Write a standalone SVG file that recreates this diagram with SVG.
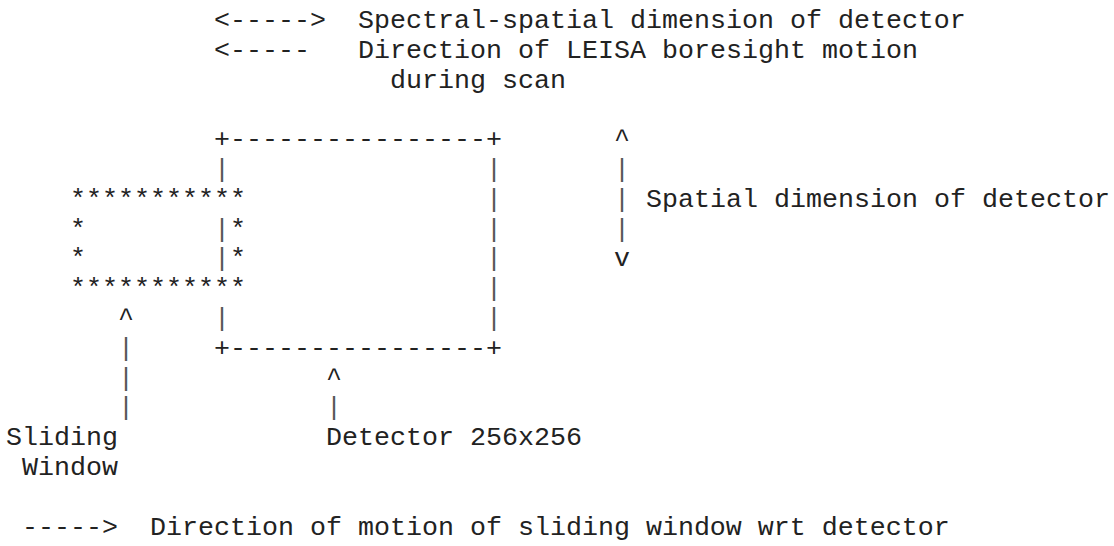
<svg xmlns="http://www.w3.org/2000/svg" width="1114" height="546" viewBox="0 0 1114 546">
  <style>
    text { font-family: "Liberation Mono", "Courier New", monospace; font-size: 26.667px; fill: #222; white-space: pre; }
    .bar { fill: #555; }
  </style>
  <rect width="1114" height="546" fill="#fff"/>

  <!-- legend: the two direction keys at the top and the motion key at the bottom -->
  <g id="legend" xml:space="preserve">
    <text x="214" y="28">&lt;-----&gt;</text>
    <text x="358" y="28">Spectral-spatial dimension of detector</text>
    <text x="214" y="57.8">&lt;-----</text>
    <text x="358" y="57.8">Direction of LEISA boresight motion</text>
    <text x="390" y="87.6">during scan</text>
    <text x="22" y="534.6">-----&gt;</text>
    <text x="150" y="534.6">Direction of motion of sliding window wrt detector</text>
  </g>

  <!-- detector frame, drawn with + - | characters -->
  <g id="detector">
    <text x="214" y="147.2">+----------------+</text>
    <text class="bar" x="214" y="177">|</text>
    <text class="bar" x="214" y="236.6">|</text>
    <text class="bar" x="214" y="266.4">|</text>
    <text class="bar" x="214" y="326">|</text>
    <text class="bar" x="486" y="177">|</text>
    <text class="bar" x="486" y="206.8">|</text>
    <text class="bar" x="486" y="236.6">|</text>
    <text class="bar" x="486" y="266.4">|</text>
    <text class="bar" x="486" y="296.2">|</text>
    <text class="bar" x="486" y="326">|</text>
    <text x="214" y="355.8">+----------------+</text>
    <text x="326" y="445.2">Detector 256x256</text>
  </g>

  <!-- sliding window, drawn with asterisks -->
  <g id="sliding-window">
    <text x="70" y="206.8">***********</text>
    <text x="70" y="236.6">*</text>
    <text x="230" y="236.6">*</text>
    <text x="70" y="266.4">*</text>
    <text x="230" y="266.4">*</text>
    <text x="70" y="296.2">***********</text>
    <text x="6" y="445.2">Sliding</text>
    <text x="22" y="475">Window</text>
  </g>

  <!-- spatial dimension label -->
  <g id="spatial-label">
    <text x="646" y="206.8">Spatial dimension of detector</text>
  </g>

  <!-- character arrows -->
  <g id="connectors">
    <!-- spatial extent arrow -->
    <text x="614" y="147.2">^</text>
    <text class="bar" x="614" y="177">|</text>
    <text class="bar" x="614" y="206.8">|</text>
    <text class="bar" x="614" y="236.6">|</text>
    <text x="614" y="266.4">v</text>
    <!-- pointer to sliding window -->
    <text x="118" y="326">^</text>
    <text class="bar" x="118" y="355.8">|</text>
    <text class="bar" x="118" y="385.6">|</text>
    <text class="bar" x="118" y="415.4">|</text>
    <!-- pointer to detector -->
    <text x="326" y="385.6">^</text>
    <text class="bar" x="326" y="415.4">|</text>
  </g>
</svg>
